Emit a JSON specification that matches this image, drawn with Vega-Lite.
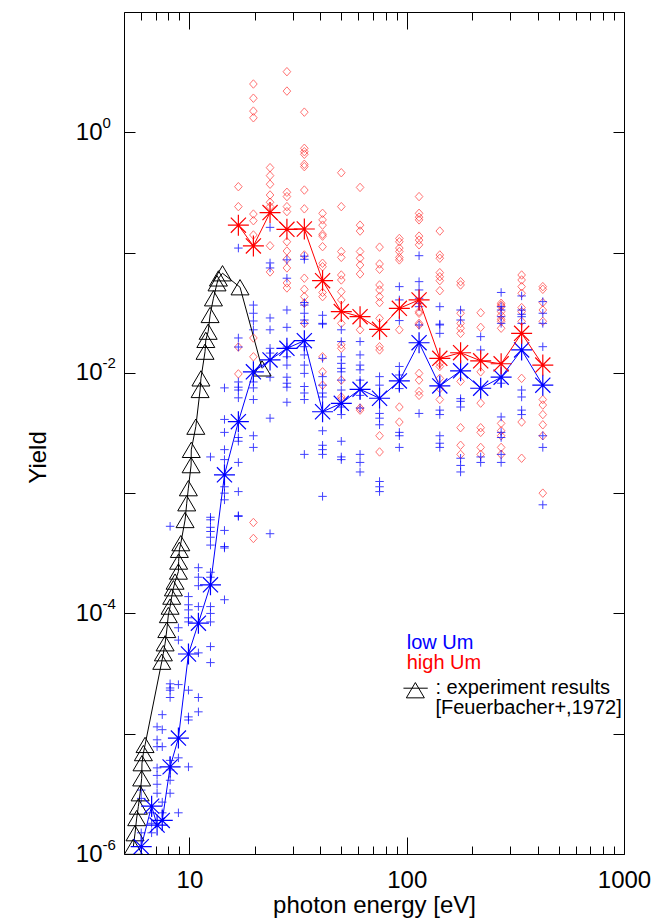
{
"$schema": "https://vega.github.io/schema/vega-lite/v6.json",
"width": 500,
"height": 842,
"autosize": {"type": "none"},
"padding": {"left": 124, "top": 12, "right": 30, "bottom": 65},
"background": "white",
"config": {
  "view": {"stroke": "#000000", "strokeWidth": 1},
  "font": "Liberation Sans",
  "axis": {"domain": false, "grid": false, "tickColor": "#000000", "tickWidth": 1, "labelColor": "#000000", "titleColor": "#000000", "labelFont": "Liberation Sans", "titleFont": "Liberation Sans", "titleFontWeight": "normal", "labelFlush": false, "labelOverlap": false}
},
"datasets": {
  "tri": [
    {"E":5.52,"Y":1.15e-6},{"E":5.62,"Y":1.49e-6},{"E":5.72,"Y":1.99e-6},{"E":5.82,"Y":2.48e-6},{"E":5.93,"Y":3.2e-6},{"E":6.03,"Y":4.26e-6},{"E":6.05,"Y":5.69e-6},{"E":6.14,"Y":6.9e-6},{"E":6.25,"Y":8.07e-6},
    {"E":7.46,"Y":3.97e-5},{"E":7.59,"Y":4.67e-5},{"E":7.73,"Y":5.65e-5},{"E":7.87,"Y":7.29e-5},{"E":8.0,"Y":9.7e-5},{"E":8.15,"Y":1.14e-4},{"E":8.29,"Y":1.38e-4},{"E":8.44,"Y":1.62e-4},{"E":8.59,"Y":1.84e-4},{"E":8.9,"Y":2.23e-4},{"E":8.92,"Y":2.7e-4},{"E":8.99,"Y":3.38e-4},{"E":9.13,"Y":3.84e-4},
    {"E":9.55,"Y":5.98e-4},{"E":9.72,"Y":8.24e-4},{"E":9.89,"Y":1.1e-3},{"E":10.18,"Y":1.71e-3},{"E":10.2,"Y":2.29e-3},{"E":10.7,"Y":3.57e-3},{"E":11.2,"Y":7.21e-3},{"E":11.3,"Y":9.0e-3},{"E":11.8,"Y":0.015},{"E":11.9,"Y":0.0188},{"E":12.2,"Y":0.022},{"E":12.45,"Y":0.0303},{"E":12.9,"Y":0.0417},{"E":13.4,"Y":0.0556},{"E":13.6,"Y":0.061},{"E":14.2,"Y":0.0673},{"E":17.1,"Y":0.0515},{"E":21.6,"Y":0.0109}
  ],
  "blue_mean": [
    {"E":6.0,"Y":1.15e-6},{"E":6.7,"Y":2.5e-6},{"E":7.1,"Y":1.74e-6},{"E":7.5,"Y":1.9e-6},{"E":8.15,"Y":5.3e-6},{"E":8.9,"Y":9.2e-6},{"E":9.9,"Y":4.6e-5},{"E":11.0,"Y":8.3e-5},{"E":12.5,"Y":1.73e-4},{"E":14.5,"Y":1.42e-3},{"E":16.8,"Y":3.93e-3},{"E":19.7,"Y":0.0102},{"E":23.5,"Y":0.0128},{"E":28.1,"Y":0.016},
    {"E":33.8,"Y":0.0185},{"E":41,"Y":0.00475},{"E":50,"Y":0.00558},{"E":61,"Y":0.0073},{"E":75,"Y":0.00615},{"E":92.5,"Y":0.00857},{"E":114,"Y":0.0178},{"E":142,"Y":0.00778},{"E":177,"Y":0.0104},{"E":219,"Y":0.00745},{"E":272,"Y":0.0092},{"E":338,"Y":0.0155},{"E":423,"Y":0.0079}
  ],
  "red_mean": [
    {"E":16.8,"Y":0.169},{"E":19.7,"Y":0.1135},{"E":23.5,"Y":0.215},{"E":28.1,"Y":0.156},{"E":33.8,"Y":0.157},{"E":41,"Y":0.0584},{"E":50,"Y":0.0323},{"E":61,"Y":0.0293},{"E":75,"Y":0.023},{"E":92.5,"Y":0.0344},{"E":114,"Y":0.0404},{"E":142,"Y":0.0132},{"E":177,"Y":0.0147},{"E":219,"Y":0.0126},{"E":272,"Y":0.0119},{"E":338,"Y":0.0213},{"E":423,"Y":0.0116}
  ],
  "blue_pts": [
    {"E":6.0,"Y":3.4e-6},{"E":6.0,"Y":2.9e-6},{"E":6.0,"Y":1.5e-6},
    {"E":6.7,"Y":1.8e-6},{"E":6.7,"Y":1.5e-6},{"E":6.7,"Y":2.2e-6},
    {"E":7.1,"Y":1.14e-5},{"E":7.1,"Y":8.9e-6},{"E":7.1,"Y":7.8e-6},{"E":7.1,"Y":5.2e-6},{"E":7.1,"Y":4.5e-6},{"E":7.1,"Y":3.8e-6},{"E":7.1,"Y":3.2e-6},
    {"E":7.5,"Y":1.44e-5},{"E":7.5,"Y":1.08e-5},{"E":7.5,"Y":7.8e-6},{"E":7.5,"Y":2.7e-6},{"E":7.5,"Y":2.2e-6},
    {"E":8.15,"Y":5.3e-4},{"E":8.15,"Y":2.6e-5},{"E":8.15,"Y":2.3e-5},{"E":8.15,"Y":2.0e-5},{"E":8.15,"Y":2.4e-5},{"E":8.15,"Y":6.0e-6},{"E":8.15,"Y":5.0e-6},{"E":8.15,"Y":4.1e-6},{"E":8.15,"Y":3.2e-6},
    {"E":8.9,"Y":7.6e-5},{"E":8.9,"Y":6.0e-5},{"E":8.9,"Y":2.56e-5},{"E":8.9,"Y":6.3e-6},{"E":8.9,"Y":2.2e-6},
    {"E":9.9,"Y":1.38e-4},{"E":9.9,"Y":1.18e-4},{"E":9.9,"Y":1.07e-4},{"E":9.9,"Y":9.2e-5},{"E":9.9,"Y":8.5e-5},{"E":9.9,"Y":2.3e-5},{"E":9.9,"Y":1.38e-5},{"E":9.9,"Y":1.3e-5},{"E":9.9,"Y":5.3e-6},
    {"E":11.0,"Y":2.4e-4},{"E":11.0,"Y":2.0e-4},{"E":11.0,"Y":1.7e-4},{"E":11.0,"Y":1.14e-4},{"E":11.0,"Y":4.7e-5},{"E":11.0,"Y":2.0e-5},{"E":11.0,"Y":1.52e-5},
    {"E":12.5,"Y":2.0e-3},{"E":12.5,"Y":6.3e-4},{"E":12.5,"Y":6.0e-4},{"E":12.5,"Y":5.2e-4},{"E":12.5,"Y":4.8e-4},{"E":12.5,"Y":4.3e-4},{"E":12.5,"Y":3.7e-4},{"E":12.5,"Y":2.2e-4},{"E":12.5,"Y":2.0e-4},{"E":12.5,"Y":1.14e-4},{"E":12.5,"Y":1.0e-4},{"E":12.5,"Y":8.5e-5},{"E":12.5,"Y":5.3e-5},{"E":12.5,"Y":3.9e-5},
    {"E":14.5,"Y":7.5e-3},{"E":14.5,"Y":4.1e-3},{"E":14.5,"Y":3.2e-3},{"E":14.5,"Y":2.3e-3},{"E":14.5,"Y":1.9e-3},{"E":14.5,"Y":1.13e-3},{"E":14.5,"Y":1.0e-3},{"E":14.5,"Y":8.8e-4},{"E":14.5,"Y":4.9e-4},{"E":14.5,"Y":3.6e-4},{"E":14.5,"Y":3.5e-4},{"E":14.5,"Y":1.3e-4},
    {"E":16.8,"Y":0.109},{"E":16.8,"Y":0.0195},{"E":16.8,"Y":0.0164},{"E":16.8,"Y":0.0084},{"E":16.8,"Y":0.0076},{"E":16.8,"Y":0.0072},{"E":16.8,"Y":0.0062},{"E":16.8,"Y":0.0029},{"E":16.8,"Y":0.0027},{"E":16.8,"Y":0.0018},{"E":16.8,"Y":0.00103},{"E":16.8,"Y":6.5e-4},{"E":16.8,"Y":6.4e-4},
    {"E":19.7,"Y":0.0366},{"E":19.7,"Y":0.0313},{"E":19.7,"Y":0.027},{"E":19.7,"Y":0.0228},{"E":19.7,"Y":0.0084},{"E":19.7,"Y":0.0075},{"E":19.7,"Y":0.006},{"E":19.7,"Y":0.003},{"E":19.7,"Y":0.0024},
    {"E":23.5,"Y":0.162},{"E":23.5,"Y":0.082},{"E":23.5,"Y":0.0745},{"E":23.5,"Y":0.0286},{"E":23.5,"Y":0.0228},{"E":23.5,"Y":0.016},{"E":23.5,"Y":0.0146},{"E":23.5,"Y":0.0092},{"E":23.5,"Y":0.0042},{"E":23.5,"Y":4.6e-4},
    {"E":28.1,"Y":0.087},{"E":28.1,"Y":0.0612},{"E":28.1,"Y":0.0333},{"E":28.1,"Y":0.0239},{"E":28.1,"Y":0.0164},{"E":28.1,"Y":0.0136},{"E":28.1,"Y":0.0116},{"E":28.1,"Y":0.0092},{"E":28.1,"Y":0.0082},{"E":28.1,"Y":0.0076},{"E":28.1,"Y":0.0057},
    {"E":33.8,"Y":0.0933},{"E":33.8,"Y":0.0879},{"E":33.8,"Y":0.0384},{"E":33.8,"Y":0.0366},{"E":33.8,"Y":0.0313},{"E":33.8,"Y":0.0275},{"E":33.8,"Y":0.0258},{"E":33.8,"Y":0.0165},{"E":33.8,"Y":0.0141},{"E":33.8,"Y":0.0116},{"E":33.8,"Y":0.0099},{"E":33.8,"Y":0.0077},{"E":33.8,"Y":0.0068},{"E":33.8,"Y":0.006},{"E":33.8,"Y":0.0021},
    {"E":41,"Y":0.0301},{"E":41,"Y":0.0258},{"E":41,"Y":0.0254},{"E":41,"Y":0.0132},{"E":41,"Y":0.0093},{"E":41,"Y":0.0079},{"E":41,"Y":0.0068},{"E":41,"Y":0.0063},{"E":41,"Y":0.0033},{"E":41,"Y":0.0025},{"E":41,"Y":0.0023},{"E":41,"Y":0.0021},{"E":41,"Y":0.00094},
    {"E":50,"Y":0.0228},{"E":50,"Y":0.0182},{"E":50,"Y":0.0136},{"E":50,"Y":0.012},{"E":50,"Y":0.0109},{"E":50,"Y":0.0102},{"E":50,"Y":0.0087},{"E":50,"Y":0.0072},{"E":50,"Y":0.0052},{"E":50,"Y":0.0045},{"E":50,"Y":0.0027},{"E":50,"Y":0.002},{"E":50,"Y":0.0019},
    {"E":61,"Y":0.0182},{"E":61,"Y":0.0141},{"E":61,"Y":0.0116},{"E":61,"Y":0.0106},{"E":61,"Y":0.0087},{"E":61,"Y":0.0065},{"E":61,"Y":0.0051},{"E":61,"Y":0.0021},{"E":61,"Y":0.0018},{"E":61,"Y":0.0015},
    {"E":75,"Y":0.0093},{"E":75,"Y":0.0079},{"E":75,"Y":0.0046},{"E":75,"Y":0.0042},{"E":75,"Y":0.0037},{"E":75,"Y":0.00125},{"E":75,"Y":0.00113},{"E":75,"Y":0.00103},
    {"E":92.5,"Y":0.0521},{"E":92.5,"Y":0.0404},{"E":92.5,"Y":0.0272},{"E":92.5,"Y":0.0113},{"E":92.5,"Y":0.0096},{"E":92.5,"Y":0.0074},{"E":92.5,"Y":0.0032},{"E":92.5,"Y":0.003},{"E":92.5,"Y":0.0024},
    {"E":114,"Y":0.0942},{"E":114,"Y":0.0573},{"E":114,"Y":0.0489},{"E":114,"Y":0.0417},{"E":114,"Y":0.0379},{"E":114,"Y":0.0355},{"E":114,"Y":0.025},{"E":114,"Y":0.0046},
    {"E":142,"Y":0.0355},{"E":142,"Y":0.0254},{"E":142,"Y":0.025},{"E":142,"Y":0.0213},{"E":142,"Y":0.0049},{"E":142,"Y":0.0045},{"E":142,"Y":0.003},{"E":142,"Y":0.0026},{"E":142,"Y":0.0024},
    {"E":177,"Y":0.0333},{"E":177,"Y":0.0275},{"E":177,"Y":0.0061},{"E":177,"Y":0.0058},{"E":177,"Y":0.0052},{"E":177,"Y":0.00195},{"E":177,"Y":0.0017},{"E":177,"Y":0.0015},
    {"E":219,"Y":0.02},{"E":219,"Y":0.0155},{"E":219,"Y":0.002},{"E":219,"Y":0.0018},
    {"E":272,"Y":0.0466},{"E":272,"Y":0.0355},{"E":272,"Y":0.0333},{"E":272,"Y":0.0293},{"E":272,"Y":0.0258},{"E":272,"Y":0.0082},{"E":272,"Y":0.0043},{"E":272,"Y":0.0032},{"E":272,"Y":0.0029},{"E":272,"Y":0.0021},{"E":272,"Y":0.0018},
    {"E":338,"Y":0.0436},{"E":338,"Y":0.0333},{"E":338,"Y":0.0307},{"E":338,"Y":0.0293},{"E":338,"Y":0.0258},{"E":338,"Y":0.0072},{"E":338,"Y":0.0063},{"E":338,"Y":0.0049},{"E":338,"Y":0.0045},
    {"E":423,"Y":0.0391},{"E":423,"Y":0.0313},{"E":423,"Y":0.0258},{"E":423,"Y":0.0165},{"E":423,"Y":0.003},{"E":423,"Y":0.0024},{"E":423,"Y":0.0008}
  ],
  "red_pts": [
    {"E":16.8,"Y":0.353},{"E":16.8,"Y":0.241},{"E":16.8,"Y":0.0164},{"E":16.8,"Y":0.0098},
    {"E":19.7,"Y":2.52},{"E":19.7,"Y":1.92},{"E":19.7,"Y":1.5},{"E":19.7,"Y":1.32},{"E":19.7,"Y":0.209},{"E":19.7,"Y":0.184},{"E":19.7,"Y":0.14},{"E":19.7,"Y":0.0195},{"E":19.7,"Y":0.0136},{"E":19.7,"Y":5.7e-4},{"E":19.7,"Y":4.2e-4},
    {"E":23.5,"Y":0.508},{"E":23.5,"Y":0.436},{"E":23.5,"Y":0.37},{"E":23.5,"Y":0.301},{"E":23.5,"Y":0.262},{"E":23.5,"Y":0.241},{"E":23.5,"Y":0.114},{"E":23.5,"Y":0.069},
    {"E":28.1,"Y":3.19},{"E":28.1,"Y":2.2},{"E":28.1,"Y":0.317},{"E":28.1,"Y":0.292},{"E":28.1,"Y":0.241},{"E":28.1,"Y":0.219},{"E":28.1,"Y":0.123},{"E":28.1,"Y":0.103},{"E":28.1,"Y":0.088},{"E":28.1,"Y":0.0745},{"E":28.1,"Y":0.0559},{"E":28.1,"Y":0.0508},
    {"E":33.8,"Y":1.47},{"E":33.8,"Y":0.736},{"E":33.8,"Y":0.69},{"E":33.8,"Y":0.656},{"E":33.8,"Y":0.542},{"E":33.8,"Y":0.518},{"E":33.8,"Y":0.331},{"E":33.8,"Y":0.231},{"E":33.8,"Y":0.0955},{"E":33.8,"Y":0.0612},{"E":33.8,"Y":0.0495},{"E":33.8,"Y":0.043},{"E":33.8,"Y":0.0379},{"E":33.8,"Y":0.0258},
    {"E":41,"Y":0.212},{"E":41,"Y":0.187},{"E":41,"Y":0.169},{"E":41,"Y":0.142},{"E":41,"Y":0.137},{"E":41,"Y":0.112},{"E":41,"Y":0.0815},{"E":41,"Y":0.0763},{"E":41,"Y":0.0466},{"E":41,"Y":0.043},{"E":41,"Y":0.0136},{"E":41,"Y":0.0102},{"E":41,"Y":0.0079},
    {"E":50,"Y":0.461},{"E":50,"Y":0.241},{"E":50,"Y":0.102},{"E":50,"Y":0.0912},{"E":50,"Y":0.0651},{"E":50,"Y":0.0592},{"E":50,"Y":0.0473},{"E":50,"Y":0.0404},{"E":50,"Y":0.0258},{"E":50,"Y":0.0171},{"E":50,"Y":0.016},{"E":50,"Y":0.0087},{"E":50,"Y":0.0063},{"E":50,"Y":0.006},
    {"E":61,"Y":0.348},{"E":61,"Y":0.169},{"E":61,"Y":0.151},{"E":61,"Y":0.102},{"E":61,"Y":0.0897},{"E":61,"Y":0.0788},{"E":61,"Y":0.0664},{"E":61,"Y":0.0228},{"E":61,"Y":0.0051},{"E":61,"Y":0.0049},
    {"E":75,"Y":0.111},{"E":75,"Y":0.0804},{"E":75,"Y":0.0726},{"E":75,"Y":0.0538},{"E":75,"Y":0.0489},{"E":75,"Y":0.043},{"E":75,"Y":0.0384},{"E":75,"Y":0.0284},{"E":75,"Y":0.0165},{"E":75,"Y":0.0155},{"E":75,"Y":0.003},{"E":75,"Y":0.0022},
    {"E":92.5,"Y":0.131},{"E":92.5,"Y":0.123},{"E":92.5,"Y":0.109},{"E":92.5,"Y":0.102},{"E":92.5,"Y":0.0912},{"E":92.5,"Y":0.0869},{"E":92.5,"Y":0.0228},{"E":92.5,"Y":0.0052},{"E":92.5,"Y":0.0039},
    {"E":114,"Y":0.292},{"E":114,"Y":0.212},{"E":114,"Y":0.197},{"E":114,"Y":0.187},{"E":114,"Y":0.137},{"E":114,"Y":0.127},{"E":114,"Y":0.116},{"E":114,"Y":0.0323},{"E":114,"Y":0.0313},{"E":114,"Y":0.0258},{"E":114,"Y":0.025},{"E":114,"Y":0.0099},{"E":114,"Y":0.0087},{"E":114,"Y":0.007},{"E":114,"Y":0.0065},
    {"E":142,"Y":0.151},{"E":142,"Y":0.0955},{"E":142,"Y":0.0897},{"E":142,"Y":0.0681},{"E":142,"Y":0.063},{"E":142,"Y":0.0584},{"E":142,"Y":0.0482},{"E":142,"Y":0.012},{"E":142,"Y":0.0113},{"E":142,"Y":0.009},{"E":142,"Y":0.0074},{"E":142,"Y":0.006},
    {"E":177,"Y":0.0573},{"E":177,"Y":0.0538},{"E":177,"Y":0.0313},{"E":177,"Y":0.0258},{"E":177,"Y":0.0235},{"E":177,"Y":0.0213},{"E":177,"Y":0.0085},{"E":177,"Y":0.0035},{"E":177,"Y":0.0025},{"E":177,"Y":0.0021},
    {"E":219,"Y":0.0316},{"E":219,"Y":0.0239},{"E":219,"Y":0.0102},{"E":219,"Y":0.0056},{"E":219,"Y":0.0035},{"E":219,"Y":0.0032},{"E":219,"Y":0.0024},{"E":219,"Y":0.0021},
    {"E":272,"Y":0.0379},{"E":272,"Y":0.0366},{"E":272,"Y":0.0355},{"E":272,"Y":0.0323},{"E":272,"Y":0.0301},{"E":272,"Y":0.0279},{"E":272,"Y":0.0268},{"E":272,"Y":0.0235},{"E":272,"Y":0.0038},{"E":272,"Y":0.0033},{"E":272,"Y":0.003},{"E":272,"Y":0.0024},{"E":272,"Y":0.0021},
    {"E":338,"Y":0.0651},{"E":338,"Y":0.0592},{"E":338,"Y":0.0521},{"E":338,"Y":0.0459},{"E":338,"Y":0.0349},{"E":338,"Y":0.0323},{"E":338,"Y":0.0268},{"E":338,"Y":0.009},{"E":338,"Y":0.0039},{"E":338,"Y":0.00195},
    {"E":423,"Y":0.0521},{"E":423,"Y":0.0495},{"E":423,"Y":0.0384},{"E":423,"Y":0.0333},{"E":423,"Y":0.0268},{"E":423,"Y":0.006},{"E":423,"Y":0.0054},{"E":423,"Y":0.0045},{"E":423,"Y":0.0037},{"E":423,"Y":0.003},{"E":423,"Y":0.001}
  ],
  "notes": [
    {"t":"low Um","k":"low","E":100,"Y":5.7e-5},
    {"t":"high Um","k":"high","E":100,"Y":3.85e-5},
    {"t":": experiment results","k":"exp","E":135.6,"Y":2.39e-5},
    {"t":"[Feuerbacher+,1972]","k":"exp","E":135.6,"Y":1.63e-5}
  ],
  "key_line": [{"E":96.6,"Y":2.39e-5},{"E":125,"Y":2.39e-5}],
  "key_tri": [{"E":109.6,"Y":2.3e-5}]
},
"resolve": {"axis": {"x": "independent", "y": "independent"}},
"layer": [
  {
    "data": {"name": "red_pts"},
    "mark": {"type": "point", "shape": "M-0.9,0L0,-1L0.9,0L0,1Z", "filled": false, "stroke": "#ff0000", "strokeWidth": 1, "opacity": 0.55, "size": 72, "clip": true},
    "encoding": {
      "x": {"field": "E", "type": "quantitative", "scale": {"type": "log", "domain": [5, 1000], "nice": false},
        "axis": {"orient": "bottom", "values": [10, 100, 1000], "ticks": false, "labels": true, "labelFontSize": 24, "labelPadding": 14, "labelExpr": "format(datum.value, 'd')", "title": "photon energy [eV]", "titleFontSize": 24, "titleY": 58, "titleBaseline": "alphabetic"}},
      "y": {"field": "Y", "type": "quantitative", "scale": {"type": "log", "domain": [0.000001, 10], "nice": false},
        "axis": {"orient": "left", "values": [1, 0.01, 0.0001, 0.000001], "ticks": false, "labelExpr": "'10'", "labelFontSize": 24, "labelPadding": 22, "labelBaseline": "middle", "title": "Yield", "titleFontSize": 24, "titleX": -86, "titleY": 445, "titleBaseline": "middle"}}
    }
  },
  {
    "data": {"name": "blue_pts"},
    "mark": {"type": "point", "shape": "M-1,0L1,0M0,-1L0,1", "filled": false, "stroke": "#0000ff", "strokeWidth": 1, "opacity": 0.75, "size": 72, "clip": true},
    "encoding": {
      "x": {"field": "E", "type": "quantitative", "scale": {"type": "log", "domain": [5, 1000], "nice": false},
        "axis": {"orient": "bottom", "values": [10, 100, 1000], "ticks": true, "tickSize": -17, "labels": false, "title": null}},
      "y": {"field": "Y", "type": "quantitative", "scale": {"type": "log", "domain": [0.000001, 10], "nice": false},
        "axis": {"orient": "left", "values": [1, 0.01, 0.0001, 0.000001], "ticks": false, "labelExpr": "datum.value >= 1 ? '0' : '-' + round(-log(datum.value) / LN10)", "labelFontSize": 15, "labelAlign": "left", "labelBaseline": "middle", "labelPadding": 22, "labelOffset": -10, "title": null}}
    }
  },
  {
    "data": {"name": "tri"},
    "mark": {"type": "line", "color": "#000000", "strokeWidth": 1, "clip": true},
    "encoding": {
      "x": {"field": "E", "type": "quantitative", "scale": {"type": "log", "domain": [5, 1000], "nice": false},
        "axis": {"orient": "bottom", "values": [6, 7, 8, 9, 20, 30, 40, 50, 60, 70, 80, 90, 200, 300, 400, 500, 600, 700, 800, 900], "ticks": true, "tickSize": -8, "labels": false, "title": null}},
      "y": {"field": "Y", "type": "quantitative", "scale": {"type": "log", "domain": [0.000001, 10], "nice": false},
        "axis": {"orient": "left", "values": [10, 1, 0.1, 0.01, 0.001, 0.0001, 0.00001, 0.000001], "ticks": true, "tickSize": -11, "labels": false, "title": null}}
    }
  },
  {
    "data": {"name": "tri"},
    "mark": {"type": "point", "shape": "M0,-0.85L1,0.85L-1,0.85Z", "filled": false, "stroke": "#000000", "strokeWidth": 1, "size": 324, "opacity": 1, "clip": true},
    "encoding": {
      "x": {"field": "E", "type": "quantitative", "scale": {"type": "log", "domain": [5, 1000], "nice": false},
        "axis": {"orient": "top", "values": [10, 100, 1000], "ticks": true, "tickSize": -17, "labels": false, "title": null}},
      "y": {"field": "Y", "type": "quantitative", "scale": {"type": "log", "domain": [0.000001, 10], "nice": false},
        "axis": {"orient": "right", "values": [10, 1, 0.1, 0.01, 0.001, 0.0001, 0.00001, 0.000001], "ticks": true, "tickSize": -11, "labels": false, "title": null}}
    }
  },
  {
    "data": {"name": "blue_mean"},
    "mark": {"type": "line", "color": "#0000ff", "strokeWidth": 1, "clip": true},
    "encoding": {
      "x": {"field": "E", "type": "quantitative", "scale": {"type": "log", "domain": [5, 1000], "nice": false},
        "axis": {"orient": "top", "values": [6, 7, 8, 9, 20, 30, 40, 50, 60, 70, 80, 90, 200, 300, 400, 500, 600, 700, 800, 900], "ticks": true, "tickSize": -8, "labels": false, "title": null}},
      "y": {"field": "Y", "type": "quantitative", "scale": {"type": "log", "domain": [0.000001, 10], "nice": false}, "axis": null}
    }
  },
  {
    "data": {"name": "blue_mean"},
    "mark": {"type": "point", "shape": "M-1,0L1,0M0,-1L0,1M-0.72,-0.72L0.72,0.72M-0.72,0.72L0.72,-0.72", "filled": false, "stroke": "#0000ff", "strokeWidth": 1.2, "size": 441, "opacity": 1, "clip": true},
    "encoding": {
      "x": {"field": "E", "type": "quantitative", "scale": {"type": "log", "domain": [5, 1000], "nice": false}, "axis": null},
      "y": {"field": "Y", "type": "quantitative", "scale": {"type": "log", "domain": [0.000001, 10], "nice": false}, "axis": null}
    }
  },
  {
    "data": {"name": "red_mean"},
    "mark": {"type": "line", "color": "#ff0000", "strokeWidth": 1, "clip": true},
    "encoding": {
      "x": {"field": "E", "type": "quantitative", "scale": {"type": "log", "domain": [5, 1000], "nice": false}, "axis": null},
      "y": {"field": "Y", "type": "quantitative", "scale": {"type": "log", "domain": [0.000001, 10], "nice": false}, "axis": null}
    }
  },
  {
    "data": {"name": "red_mean"},
    "mark": {"type": "point", "shape": "M-1,0L1,0M0,-1L0,1M-0.72,-0.72L0.72,0.72M-0.72,0.72L0.72,-0.72", "filled": false, "stroke": "#ff0000", "strokeWidth": 1.2, "size": 441, "opacity": 1, "clip": true},
    "encoding": {
      "x": {"field": "E", "type": "quantitative", "scale": {"type": "log", "domain": [5, 1000], "nice": false}, "axis": null},
      "y": {"field": "Y", "type": "quantitative", "scale": {"type": "log", "domain": [0.000001, 10], "nice": false}, "axis": null}
    }
  },
  {
    "data": {"name": "notes"},
    "mark": {"type": "text", "align": "left", "baseline": "middle", "fontSize": 20, "font": "Liberation Sans"},
    "encoding": {
      "x": {"field": "E", "type": "quantitative", "scale": {"type": "log", "domain": [5, 1000], "nice": false}, "axis": null},
      "y": {"field": "Y", "type": "quantitative", "scale": {"type": "log", "domain": [0.000001, 10], "nice": false}, "axis": null},
      "text": {"field": "t"},
      "color": {"field": "k", "type": "nominal", "scale": {"domain": ["low", "high", "exp"], "range": ["#0000ff", "#ff0000", "#000000"]}, "legend": null}
    }
  },
  {
    "data": {"name": "key_line"},
    "mark": {"type": "line", "color": "#000000", "strokeWidth": 1},
    "encoding": {
      "x": {"field": "E", "type": "quantitative", "scale": {"type": "log", "domain": [5, 1000], "nice": false}, "axis": null},
      "y": {"field": "Y", "type": "quantitative", "scale": {"type": "log", "domain": [0.000001, 10], "nice": false}, "axis": null}
    }
  },
  {
    "data": {"name": "key_tri"},
    "mark": {"type": "point", "shape": "M0,-0.85L1,0.85L-1,0.85Z", "filled": false, "stroke": "#000000", "strokeWidth": 1, "size": 324, "opacity": 1},
    "encoding": {
      "x": {"field": "E", "type": "quantitative", "scale": {"type": "log", "domain": [5, 1000], "nice": false}, "axis": null},
      "y": {"field": "Y", "type": "quantitative", "scale": {"type": "log", "domain": [0.000001, 10], "nice": false}, "axis": null}
    }
  }
]
}
